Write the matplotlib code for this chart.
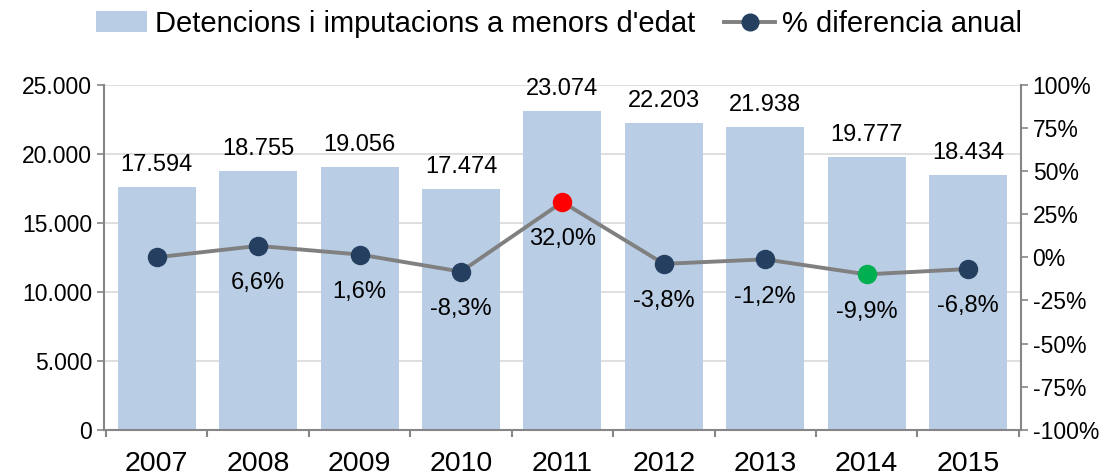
"""Detencions i imputacions a menors d'edat, 2007-2015."""

import matplotlib

matplotlib.use("Agg")
import matplotlib.pyplot as plt
from matplotlib.lines import Line2D
from matplotlib.patches import Patch
from matplotlib.ticker import FixedLocator, FuncFormatter

plt.rcParams["font.family"] = ["Liberation Sans", "DejaVu Sans"]

YEARS = ["2007", "2008", "2009", "2010", "2011", "2012", "2013", "2014", "2015"]
DETENTIONS = [17594, 18755, 19056, 17474, 23074, 22203, 21938, 19777, 18434]
PCT_CHANGE = [0.0, 6.6, 1.6, -8.3, 32.0, -3.8, -1.2, -9.9, -6.8]
PCT_LABELS = ["", "6,6%", "1,6%", "-8,3%", "32,0%", "-3,8%", "-1,2%", "-9,9%", "-6,8%"]

BAR_COLOR = "#b9cde5"
LINE_COLOR = "#808080"
MARKER_COLOR = "#243f60"
SPECIAL_MARKERS = {4: "#ff0000", 7: "#00b050"}
AXIS_COLOR = "#868686"


def thousands(value, _pos):
    return f"{int(value):,}".replace(",", ".")


fig, ax = plt.subplots(figsize=(11.12, 4.76), dpi=100)
fig.subplots_adjust(left=0.0935, right=0.918, top=0.822, bottom=0.097)

x = list(range(len(YEARS)))
ax.bar(x, DETENTIONS, width=0.77, color=BAR_COLOR, zorder=2)
for xi, value in zip(x, DETENTIONS):
    ax.annotate(thousands(value, None), (xi, value), xytext=(0, 8),
                textcoords="offset points", ha="center", va="bottom", fontsize=17)

ax.set_xlim(-0.52, 8.52)
ax.set_ylim(0, 25000)
ax.set_yticks(range(0, 25001, 5000))
ax.yaxis.set_major_formatter(FuncFormatter(thousands))
ax.set_xticks(x)
ax.set_xticklabels(YEARS, fontsize=20.5)
ax.xaxis.set_minor_locator(FixedLocator([i - 0.5 for i in range(len(YEARS) + 1)]))
ax.tick_params(axis="x", which="major", length=0, pad=15)
ax.tick_params(axis="x", which="minor", length=5, width=1.5, color=AXIS_COLOR)
ax.tick_params(axis="y", labelsize=16.5, length=5, width=1.2, color=AXIS_COLOR,
               direction="out")
ax.grid(axis="y", color="#d9d9d9", linewidth=1.2, zorder=0)
ax.set_axisbelow(True)
for side in ("top", "right"):
    ax.spines[side].set_visible(False)
for side in ("left", "bottom"):
    ax.spines[side].set_color(AXIS_COLOR)
    ax.spines[side].set_linewidth(1.5)

ax2 = ax.twinx()
ax2.set_ylim(-100, 100)
ax2.set_yticks(range(-100, 101, 25))
ax2.yaxis.set_major_formatter(FuncFormatter(lambda v, _p: f"{int(v)}%"))
ax2.tick_params(axis="y", labelsize=16.5, length=5, width=1.2, color=AXIS_COLOR,
                direction="out")
for side in ("top", "left", "bottom"):
    ax2.spines[side].set_visible(False)
ax2.spines["right"].set_color(AXIS_COLOR)
ax2.spines["right"].set_linewidth(1.5)

ax2.plot(x, PCT_CHANGE, color=LINE_COLOR, linewidth=2.8, zorder=3)
for xi, value, label in zip(x, PCT_CHANGE, PCT_LABELS):
    color = SPECIAL_MARKERS.get(xi, MARKER_COLOR)
    ax2.plot(xi, value, "o", color=color, markersize=13, zorder=4)
    if label:
        ax2.annotate(label, (xi, value), xytext=(0, -19), textcoords="offset points",
                     ha="center", va="top", fontsize=17)

handles = [
    Patch(facecolor=BAR_COLOR, edgecolor="none"),
    Line2D([0], [0], color=LINE_COLOR, linewidth=2.8, marker="o",
           markersize=12, markerfacecolor=MARKER_COLOR, markeredgecolor=MARKER_COLOR),
]
fig.legend(handles, ["Detencions i imputacions a menors d'edat", "% diferencia anual"],
           loc="center", bbox_to_anchor=(0.503, 0.95), ncol=2, frameon=False,
           fontsize=21, handlelength=1.75, handletextpad=0.25, columnspacing=1.0)

fig.savefig("out.png", dpi=100)
